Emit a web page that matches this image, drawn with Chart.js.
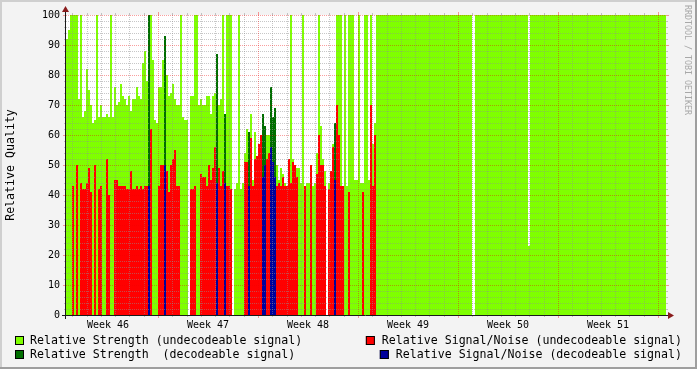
<!DOCTYPE html>
<html lang="en">
<head>
<meta charset="UTF-8" />
<title>Relative Quality</title>
<script src="https://cdn.jsdelivr.net/npm/chart.js@4"></script>
<style>
  html, body { margin: 0; padding: 0; background: #f3f3f3; }
  #chart { display: block; }
</style>
</head>
<body>
<canvas id="chart" width="697" height="369"></canvas>
<script>
// ---- data (x in days since start of week 46) ----
const firstDay = 0.56;      // first sample
const stepDays = 0.14;      // sample width
const lastDay = 42.56;      // end of graph

// relative strength per sample (null = no data)
const strength = [
  92, 95, 100, 100, 100, 100, 72, 100, 66, 68,
  82, 75, 70, 64, 65, 100, 66, 70, 66, 66,
  67, 66, 100, 66, 76, 70, 71, 77, 73, 72,
  70, 73, 68, 72, 72, 76, 73, 72, 84, 88,
  78, 100, 100, 85, 65, 64, 76, 76, 85, 93,
  80, 73, 74, 77, 72, 70, 70, 100, 66, 65,
  65, null, 73, 73, 100, 100, 70, 72, 70, 70,
  73, 73, 67, 73, 74, 87, 70, 72, 100, 67,
  100, 100, 100, null, 42, 44, 100, 42, 44, 54,
  62, 61, 67, 45, 61, 50, 55, 59, 67, 63,
  60, 60, 76, 66, 69, 50, 45, 49, 47, 44,
  42, 45, 100, 52, 50, 49, 49, 44, 100, 43,
  44, 44, 44, 43, 44, 54, 100, 63, 52, 48,
  null, 44, 44, 57, 64, 100, 100, 100, 43, 100,
  43, 100, 100, 100, 45, 45, 100, 44, 44, 100,
  100, 45, 100, 57, 64
];

// relative signal/noise per sample
const snr = [
  null, null, null, 43, null, 50, null, 44, 42, 42,
  44, 49, 41, null, 50, null, 42, 43, null, null,
  52, 40, null, null, 45, 45, 43, 43, 43, 43,
  42, 42, 48, 42, 42, 43, 42, 43, 42, 43,
  43, 43, 62, null, null, null, 43, 50, 50, 50,
  48, 41, 50, 52, 55, 43, 43, null, null, null,
  null, null, 42, 42, 43, null, null, 47, 46, 46,
  43, 50, 45, 49, 56, 44, 49, 43, 48, 44,
  43, 43, 42, null, null, null, null, null, null, 51,
  51, 43, 59, 43, 52, 53, 57, 60, 46, 50,
  52, 54, 56, 51, 46, 43, 44, 43, 46, 43,
  43, 52, 44, 51, 50, 46, null, null, null, 43,
  null, null, 50, null, null, 47, 60, 50, 50, 43,
  null, 42, 48, 56, 45, 70, 60, 43, 43, null,
  null, 41, null, null, null, null, null, null, 41, null,
  null, null, 70, 43, 60
];

// 1 = signal could be decoded
const decoded = [
  0, 0, 0, 0, 0, 0, 0, 0, 0, 0,
  0, 0, 0, 0, 0, 0, 0, 0, 0, 0,
  0, 0, 0, 0, 0, 0, 0, 0, 0, 0,
  0, 0, 0, 0, 0, 0, 0, 0, 0, 0,
  0, 1, 0, 0, 0, 0, 0, 0, 0, 1,
  0, 0, 0, 0, 0, 0, 0, 0, 0, 0,
  0, 0, 0, 0, 0, 0, 0, 0, 0, 0,
  0, 0, 0, 0, 0, 1, 0, 0, 0, 1,
  0, 0, 0, 0, 0, 0, 0, 0, 0, 0,
  0, 1, 0, 0, 0, 0, 0, 0, 1, 1,
  0, 0, 1, 1, 1, 0, 0, 0, 0, 0,
  0, 0, 0, 0, 0, 0, 0, 0, 0, 0,
  0, 0, 0, 0, 0, 0, 0, 0, 0, 0,
  0, 0, 0, 0, 1, 0, 0, 0, 0, 0,
  0, 0, 0, 0, 0, 0, 0, 0, 0, 0,
  0, 0, 0, 0, 0
];

// later, steadier part of the record (start day of each run, value)
const tailStart = [22.26, 28.98, 29.19, 32.90, 33.04];
const tailStrength = [100, null, 100, 23, 100];

const weekCenters = [3.5, 10.5, 17.5, 24.5, 31.5, 38.5];
const weekLabels = ['Week 46', 'Week 47', 'Week 48', 'Week 49', 'Week 50', 'Week 51'];
const yTitle = 'Relative Quality';
const seriesLabels = [
  'Relative Strength (undecodeable signal)',
  'Relative Signal/Noise (undecodeable signal)',
  'Relative Strength  (decodeable signal)',
  'Relative Signal/Noise (decodeable signal)'
];
const seriesColors = ['#7fff00', '#ff0000', '#006e00', '#00009c'];

// ---- build samples ----
const samples = [];
strength.forEach((s, i) => {
  const start = firstDay + stepDays * i;
  samples.push({ start, end: start + stepDays, s, n: snr[i], d: decoded[i] === 1 });
});
tailStart.forEach((t, k) => {
  samples.push({ start: t, end: k + 1 < tailStart.length ? tailStart[k + 1] : lastDay,
                 s: tailStrength[k], n: null, d: false });
});

function steps(pick) {
  const pts = [];
  samples.forEach(c => {
    const v = pick(c);
    if (v === null || v === undefined) {
      pts.push({ x: c.start, y: null });
    } else {
      pts.push({ x: c.start, y: v });
      pts.push({ x: c.end, y: v });
    }
  });
  return pts;
}

const picks = [
  c => c.d ? null : c.s,
  c => c.d ? null : c.n,
  c => c.d ? c.s : null,
  c => c.d ? c.n : null
];
const drawOrder = [3, 1, 2, 0]; // light green at the bottom, blue on top

const mono = '"DejaVu Sans Mono", monospace';

// background, grid on top of the areas, axes, legend
const rrdFrame = {
  id: 'rrdFrame',
  beforeDraw(chart) {
    const { ctx, width, height, chartArea: a } = chart;
    ctx.save();
    ctx.fillStyle = '#f3f3f3';
    ctx.fillRect(0, 0, width, height);
    ctx.fillStyle = '#cfcfcf';
    ctx.fillRect(0, 0, width, 2);
    ctx.fillRect(0, 0, 2, height);
    ctx.fillStyle = '#9e9e9e';
    ctx.fillRect(0, height - 2, width, 2);
    ctx.fillRect(width - 2, 0, 2, height);
    ctx.fillStyle = '#ffffff';
    ctx.fillRect(a.left, a.top, a.right - a.left, a.bottom - a.top);
    ctx.restore();
  },
  afterDatasetsDraw(chart) {
    const { ctx, chartArea: a } = chart;
    const xs = chart.scales.x, ys = chart.scales.y;
    const line = (x0, y0, x1, y1) => {
      ctx.beginPath(); ctx.moveTo(x0, y0); ctx.lineTo(x1, y1); ctx.stroke();
    };
    ctx.save();
    ctx.lineWidth = 1;
    const drawGrid = (major) => {
      ctx.strokeStyle = major ? 'rgba(240,0,0,0.38)' : 'rgba(143,143,143,0.5)';
      const tick = major ? 3 : 2;
      for (let d = Math.ceil(xs.min); d <= xs.max; d++) {
        if ((d % 7 === 0) !== major) continue;
        const x = Math.round(xs.getPixelForValue(d)) + 0.5;
        ctx.setLineDash([]);
        line(x, a.top - tick, x, a.top);
        line(x, a.bottom, x, a.bottom + tick);
        ctx.setLineDash([1, 1]);
        line(x, a.top, x, a.bottom);
      }
      for (let v = 2; v <= 100; v += 2) {
        if ((v % 10 === 0) !== major) continue;
        const y = Math.round(ys.getPixelForValue(v)) + 0.5;
        ctx.setLineDash([]);
        line(a.left - tick, y, a.left, y);
        line(a.right, y, a.right + tick, y);
        ctx.setLineDash([1, 1]);
        line(a.left, y, a.right, y);
      }
    };
    drawGrid(false);
    drawGrid(true);
    ctx.setLineDash([]);

    // axes
    ctx.strokeStyle = '#1a1a1a';
    const ax = a.left - 0.5, ay = a.bottom + 0.5;
    line(a.left - 4, ay, a.right + 3, ay);
    line(ax, a.bottom + 4, ax, a.top - 3);
    ctx.fillStyle = '#8a1c1c';
    ctx.beginPath();
    ctx.moveTo(a.right + 8, ay); ctx.lineTo(a.right + 2, ay - 3.5); ctx.lineTo(a.right + 2, ay + 3.5);
    ctx.closePath(); ctx.fill();
    ctx.beginPath();
    ctx.moveTo(ax, a.top - 9); ctx.lineTo(ax - 3.5, a.top - 3); ctx.lineTo(ax + 3.5, a.top - 3);
    ctx.closePath(); ctx.fill();
    ctx.restore();
  },
  afterDraw(chart) {
    const { ctx, width } = chart;
    ctx.save();
    ctx.font = '11.6px ' + mono;
    ctx.textBaseline = 'middle';
    const ds = chart.data.datasets;
    const box = (x, y, color) => {
      ctx.fillStyle = color;
      ctx.fillRect(x, y, 9, 9);
      ctx.strokeStyle = '#000';
      ctx.lineWidth = 1;
      ctx.strokeRect(x + 0.5, y + 0.5, 8, 8);
    };
    const rows = [341, 355];
    // left column
    [0, 2].forEach((k, r) => {
      box(15, rows[r] - 5, ds[k].backgroundColor);
      ctx.fillStyle = '#000';
      ctx.textAlign = 'left';
      ctx.fillText(ds[k].label, 30, rows[r]);
    });
    // right column, right aligned
    [1, 3].forEach((k, r) => {
      const w = ctx.measureText(ds[k].label).width;
      const tx = 682 - w;
      box(tx - 16, rows[r] - 5, ds[k].backgroundColor);
      ctx.fillStyle = '#000';
      ctx.textAlign = 'left';
      ctx.fillText(ds[k].label, tx, rows[r]);
    });
    // vertical credit
    ctx.font = '8.3px ' + mono;
    ctx.fillStyle = '#a8a8a8';
    ctx.translate(width - 10, 5);
    ctx.rotate(Math.PI / 2);
    ctx.textAlign = 'left';
    ctx.fillText('RRDTOOL / TOBI OETIKER', 0, 0);
    ctx.restore();
  }
};

new Chart(document.getElementById('chart'), {
  type: 'line',
  data: {
    datasets: seriesLabels.map((label, k) => ({
      label,
      data: steps(picks[k]),
      backgroundColor: seriesColors[k],
      borderColor: seriesColors[k],
      borderWidth: 0,
      pointRadius: 0,
      fill: 'origin',
      tension: 0,
      spanGaps: false,
      order: drawOrder[k]
    }))
  },
  options: {
    responsive: false,
    animation: false,
    devicePixelRatio: 1,
    layout: { padding: { left: 0, top: 15, right: 31, bottom: 34 } },
    plugins: {
      legend: { display: false },
      tooltip: { enabled: false }
    },
    scales: {
      x: {
        type: 'linear',
        min: firstDay,
        max: lastDay,
        grid: { display: false, drawTicks: false, tickLength: 0 },
        border: { display: false },
        afterBuildTicks: s => { s.ticks = weekCenters.map(v => ({ value: v })); },
        afterFit: s => { s.height = 20; },
        ticks: {
          autoSkip: false,
          maxRotation: 0,
          padding: 4,
          color: '#000',
          font: { family: mono, size: 10 },
          callback: (v, i) => weekLabels[i]
        }
      },
      y: {
        min: 0,
        max: 100,
        grid: { display: false, drawTicks: false, tickLength: 0 },
        border: { display: false },
        afterFit: s => { s.width = 66; },
        ticks: {
          stepSize: 10,
          padding: 6,
          color: '#000',
          font: { family: mono, size: 10 }
        },
        title: {
          display: true,
          text: yTitle,
          color: '#000',
          padding: { top: 4, bottom: 0 },
          font: { family: mono, size: 11.6 }
        }
      }
    }
  },
  plugins: [rrdFrame]
});
</script>
</body>
</html>
